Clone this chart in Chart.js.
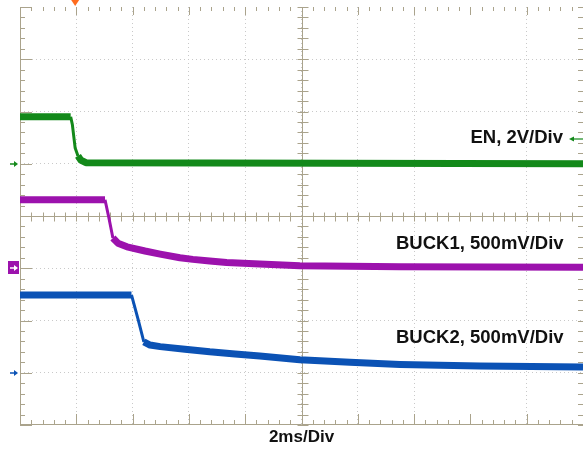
<!DOCTYPE html>
<html lang="en">
<head>
  <meta charset="UTF-8">
  <title>EN / BUCK1 / BUCK2 power-down</title>
  <script src="https://cdn.jsdelivr.net/npm/chart.js"></script>
  <style>
    body { margin: 0; background: #fff; }
  </style>
</head>
<body>
  <canvas id="scope" width="583" height="449"></canvas>

  <script>
    // time in divisions (10 across, 2ms/Div), level in divisions (8 high)
    const enTime = [0, 0.90, 0.93, 0.98, 1.03, 1.08, 1.17, 10];
    const enLevel = [5.90, 5.90, 5.75, 5.30, 5.15, 5.07, 5.02, 5.00];

    const buck1Time = [0, 1.51, 1.58, 1.65, 1.74, 1.90, 2.22, 2.49, 2.84, 3.07, 3.37, 3.67, 4.26, 4.97, 5.86, 6.75, 10];
    const buck1Level = [4.31, 4.31, 3.96, 3.58, 3.48, 3.41, 3.33, 3.27, 3.20, 3.17, 3.14, 3.11, 3.08, 3.05, 3.04, 3.03, 3.02];

    const buck2Time = [0, 1.98, 2.10, 2.20, 2.31, 2.49, 2.93, 3.37, 3.82, 4.26, 4.97, 5.86, 6.75, 8.17, 10];
    const buck2Level = [2.49, 2.49, 2.01, 1.59, 1.53, 1.50, 1.45, 1.40, 1.36, 1.32, 1.25, 1.20, 1.16, 1.13, 1.11];

    const traceNames = ["EN, 2V/Div", "BUCK1, 500mV/Div", "BUCK2, 500mV/Div"];
    const groundLevels = [5, 3, 1];
    const triggerTime = 0.98;
    const timeLabel = "2ms/Div";

    const traceColors = ["#13891a", "#9c12ad", "#0b52b5"];
    const frameColor = "#aaa38c";
    const captionFont = 'bold 18.5px "Liberation Sans", Arial, sans-serif';
    const timeFont = 'bold 17px "Liberation Sans", Arial, sans-serif';

    function toPoints(xs, ys) {
      return xs.map((t, i) => ({ x: t, y: ys[i] }));
    }

    // steep edges are drawn thinner than the noisy flat parts
    const bandWidth = ctx => {
      const dx = Math.abs(ctx.p1.x - ctx.p0.x);
      const dy = Math.abs(ctx.p1.y - ctx.p0.y);
      return dy > 1.5 * dx ? 3 : 7;
    };

    const scopeFrame = {
      id: "scopeFrame",
      beforeDatasetsDraw(chart) {
        const { ctx, chartArea: a, scales: { x, y } } = chart;
        const xc = Math.round(x.getPixelForValue(5)) + 0.5;
        const yc = Math.round(y.getPixelForValue(4)) + 0.5;
        const line = (x1, y1, x2, y2) => {
          ctx.beginPath(); ctx.moveTo(x1, y1); ctx.lineTo(x2, y2); ctx.stroke();
        };
        ctx.save();
        ctx.strokeStyle = frameColor;
        ctx.lineWidth = 1;
        line(a.left + 0.5, a.top, a.left + 0.5, a.bottom);
        line(a.left, a.bottom - 0.5, a.right, a.bottom - 0.5);
        line(a.left, yc, a.right, yc);
        line(xc, a.top, xc, a.bottom);
        for (let i = 0; i <= 50; i++) {
          const px = Math.round(x.getPixelForValue(i / 5)) + 0.5;
          const major = i % 5 === 0;
          line(px, a.bottom, px, a.bottom - (major ? 11 : 5));
          line(px, a.top, px, a.top + (major ? 8 : 4));
          line(px, yc - 4, px, yc + 5);
        }
        for (let j = 0; j <= 40; j++) {
          const py = Math.round(y.getPixelForValue(j / 5)) + 0.5;
          const major = j % 5 === 0;
          line(a.left, py, a.left + (major ? 12 : 5), py);
          line(a.right, py, a.right - 5, py);
          line(xc - 5, py, xc + 6, py);
        }
        ctx.restore();
      },
      afterDatasetsDraw(chart) {
        const { ctx, scales: { x, y } } = chart;
        ctx.save();

        // ground markers on the left edge
        groundLevels.forEach((g, k) => {
          const py = Math.round(y.getPixelForValue(g));
          const col = traceColors[k];
          if (k === 1) {
            ctx.fillStyle = col;
            ctx.fillRect(8, py - 7, 11, 13);
            ctx.strokeStyle = "#fff";
            ctx.fillStyle = "#fff";
          } else {
            ctx.strokeStyle = col;
            ctx.fillStyle = col;
          }
          ctx.lineWidth = 1.5;
          ctx.beginPath(); ctx.moveTo(10, py); ctx.lineTo(15, py); ctx.stroke();
          ctx.beginPath(); ctx.moveTo(18, py); ctx.lineTo(14, py - 3); ctx.lineTo(14, py + 3); ctx.closePath(); ctx.fill();
        });

        // trigger position marker
        const tx = x.getPixelForValue(triggerTime);
        ctx.fillStyle = "#ff6c1e";
        ctx.beginPath(); ctx.moveTo(tx - 4, 0); ctx.lineTo(tx + 4, 0); ctx.lineTo(tx, 6); ctx.closePath(); ctx.fill();

        // channel captions
        ctx.fillStyle = "#111";
        ctx.font = captionFont;
        ctx.textBaseline = "alphabetic";
        ctx.textAlign = "right";
        ctx.fillText(traceNames[0], 563, 143);
        ctx.textAlign = "left";
        ctx.fillText(traceNames[1], 396, 249);
        ctx.fillText(traceNames[2], 396, 343);
        ctx.font = timeFont;
        ctx.textAlign = "center";
        ctx.fillText(timeLabel, x.getPixelForValue(5), 442);

        // arrow after the EN caption
        ctx.strokeStyle = traceColors[0];
        ctx.fillStyle = traceColors[0];
        ctx.lineWidth = 1.2;
        ctx.beginPath(); ctx.moveTo(574, 139); ctx.lineTo(583, 139); ctx.stroke();
        ctx.beginPath(); ctx.moveTo(569, 139); ctx.lineTo(574, 136.5); ctx.lineTo(574, 141.5); ctx.closePath(); ctx.fill();

        ctx.restore();
      }
    };

    const dotted = value => (value === 0 || value === 10 || value === 8 ? "transparent" : "#c9c9c9");

    new Chart(document.getElementById("scope"), {
      type: "line",
      data: {
        datasets: [
          { label: traceNames[0], data: toPoints(enTime, enLevel), borderColor: traceColors[0] },
          { label: traceNames[1], data: toPoints(buck1Time, buck1Level), borderColor: traceColors[1] },
          { label: traceNames[2], data: toPoints(buck2Time, buck2Level), borderColor: traceColors[2] }
        ]
      },
      options: {
        responsive: false,
        animation: false,
        parsing: false,
        layout: { padding: { left: 20, top: 7, right: 0, bottom: 24 } },
        elements: {
          point: { radius: 0 },
          line: { borderWidth: 7, tension: 0, borderJoinStyle: "round" }
        },
        datasets: { line: { segment: { borderWidth: bandWidth } } },
        plugins: { legend: { display: false }, tooltip: { enabled: false } },
        scales: {
          x: {
            type: "linear", min: 0, max: 10,
            ticks: { display: false, stepSize: 1 },
            grid: { drawTicks: false, color: c => dotted(c.tick.value) },
            border: { display: false, dash: [1, 3] }
          },
          y: {
            type: "linear", min: 0, max: 8,
            ticks: { display: false, stepSize: 1 },
            grid: { drawTicks: false, color: c => (c.tick.value === 0 || c.tick.value === 8 ? "transparent" : "#c9c9c9") },
            border: { display: false, dash: [1, 3] }
          }
        }
      },
      plugins: [scopeFrame]
    });
  </script>
</body>
</html>
